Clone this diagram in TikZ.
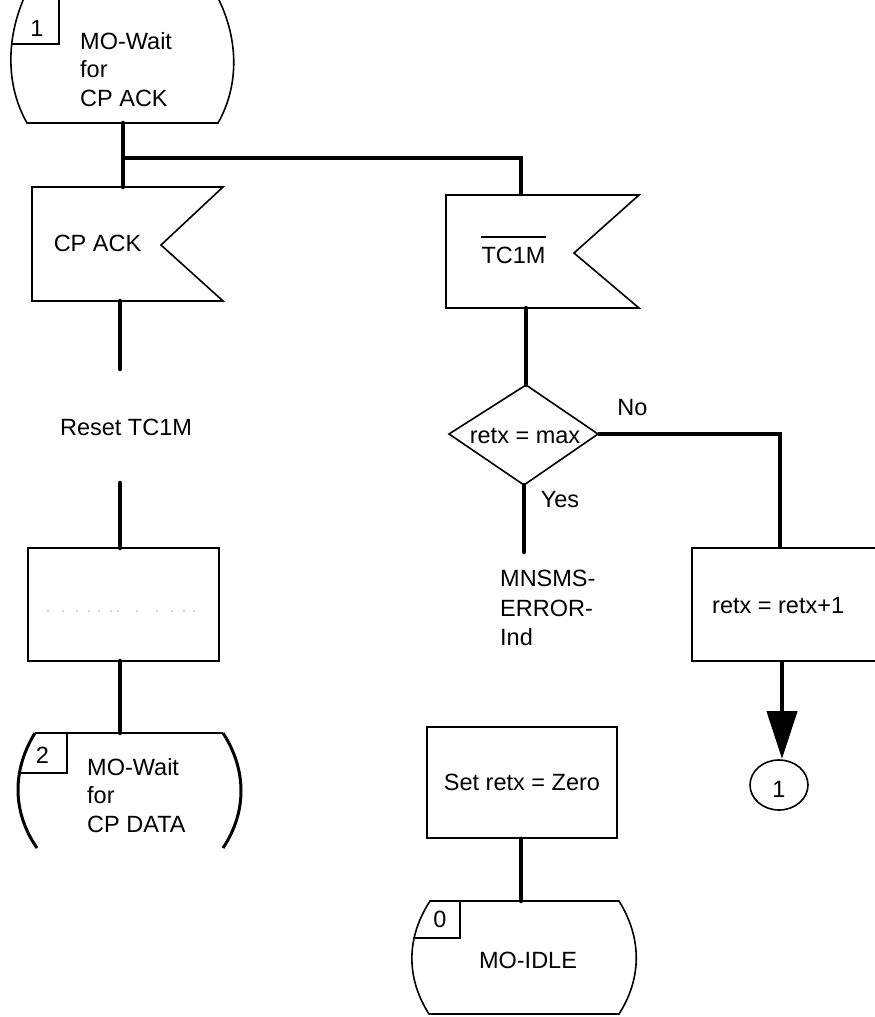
\documentclass[tikz,border=0pt]{standalone}
\usepackage{fontspec}
\setmainfont{Liberation Sans}
\usetikzlibrary{arrows.meta,shapes.geometric}
\begin{document}
\begin{tikzpicture}[x=1pt,y=-1pt,
  conn/.style={line width=4.5pt, line cap=round},
  thin/.style={line width=1.6pt, line join=miter},
  thick/.style={line width=2.7pt},
  lbl/.style={font=\fontsize{23.5}{28.5}\selectfont, inner sep=0pt, align=left},
  boxnode/.style={draw, thin, rectangle, inner sep=0pt},
]
\useasboundingbox (0,0) rectangle (875,1017);
\clip (0,0) rectangle (875,1017);

% ---------- State 1 (top left) ----------
\coordinate (s1bot) at (123,123);
\draw[thin] (24,-2) .. controls (6,40) and (6,86) .. (27,123) -- (218,123)
            .. controls (239,86) and (239,40) .. (218,-2);
\draw[thin] (59,0) -- (59,44) -- (12,44);
\node[lbl] (n1) at (37,28) {1};
\node[lbl, anchor=north west] (s1txt) at (80,32) {MO-Wait\\for\\CP ACK};

% ---------- Signal CP ACK ----------
\draw[thin] (32,187) coordinate (cpTL) -- (223,187) -- (161,245) -- (223,301) -- (32,301) -- cycle;
\coordinate (cpTop) at (123,187);
\coordinate (cpBot) at (120,301);
\node[lbl] (cpack) at (97.5,243) {CP ACK};

% ---------- Signal TC1M ----------
\draw[thin] (446,195) -- (639,195) -- (574,253) -- (639,308) -- (446,308) -- cycle;
\coordinate (tcTop) at (521,195);
\coordinate (tcBot) at (526,308);
\node[lbl] (tc1m) at (513.5,255) {TC1M};
\draw[line width=2pt] ([yshift=9pt]tc1m.north west) -- ([yshift=9pt]tc1m.north east);

% branch from state 1
\coordinate (br) at (123,158);
\coordinate (brR) at (521,158);
\draw[conn] (s1bot) -- (cpTop);
\draw[conn, line cap=butt] (br) -- (brR) -- (tcTop);

% ---------- Reset TC1M ----------
\coordinate (rsTop) at (120,369);
\coordinate (rsBot) at (120,483);
\node[lbl] (reset) at (126,427) {Reset TC1M};
\draw[conn] (cpBot) -- (rsTop);

% ---------- box with faint text ----------
\node[boxnode, thick, minimum width=191pt, minimum height=113pt] (boxA) at (123.5,604.5) {};
\foreach \xx in {48,63,77,89,99,111,118,137,157,172,184,194}
  \fill[gray!70] (\xx,611) circle (0.8);
\draw[conn] (rsBot) -- (120,548);
\draw[conn] (120,661) -- (120,733);

% ---------- State 2 ----------
\draw[line width=2pt] (35,733) -- (223,733);
\draw[line width=3pt] (35,733) .. controls (12,770) and (12,812) .. (37,848);
\draw[line width=3pt] (223,733) .. controls (247,770) and (247,812) .. (223,848);
\draw[thick] (67,733) -- (67,773) -- (21,773);
\node[lbl] (n2) at (42.5,755) {2};
\node[lbl, anchor=north west] (s2txt) at (87,758) {MO-Wait\\for\\CP DATA};

% ---------- Decision ----------
\coordinate (dT) at (526,385);
\coordinate (dL) at (449,434);
\coordinate (dR) at (598,434);
\coordinate (dB) at (524,485);
\draw[thin] (dT) -- (dR) -- (dB) -- (dL) -- cycle;
\node[lbl] (dec) at (525,436) {retx = max};
\node[lbl] (no) at (632.5,407.5) {No};
\node[lbl] (yes) at (560,500) {Yes};
\draw[conn] (tcBot) -- (dT);
\coordinate (noC) at (780,434);
\draw[conn, line cap=butt] (dR) -- (noC) -- (780,548);
\draw[conn] (dB) -- (524,552);

% ---------- MNSMS-ERROR-Ind ----------
\node[lbl, anchor=north west, font=\fontsize{23.5}{29.5}\selectfont] (err) at (500,570) {MNSMS-\\ERROR-\\Ind};

% ---------- retx = retx+1 ----------
\node[boxnode, minimum width=200pt, minimum height=113pt] (boxB) at (792,604.5) {};
\node[lbl, anchor=west] (inc) at (712,606) {retx = retx+1};
\node[draw, thin, ellipse, minimum width=58pt, minimum height=50pt, inner sep=0pt] (con1) at (779,785) {};
\node[lbl] (c1txt) at (779,789) {1};
\draw[line width=4.5pt, -{Triangle[length=48pt,width=30pt]}] (782,661) -- (782,759);

% ---------- Set retx = Zero ----------
\node[boxnode, minimum width=190pt, minimum height=111pt] (boxC) at (522,782.5) {};
\node[lbl] (setz) at (522,782) {Set retx = Zero};
\draw[conn] (boxC.south) ++(-1,0) -- (521,901);

% ---------- MO-IDLE ----------
\draw[thin] (430,901) -- (619,901) .. controls (642,938) and (642,978) .. (619,1014)
            -- (429,1014) .. controls (406,978) and (406,938) .. cycle;
\draw[thin] (460,901) -- (460,938) -- (413,938);
\node[lbl] (n0) at (440,919.5) {0};
\node[lbl] (idle) at (528,960) {MO-IDLE};
\end{tikzpicture}
\end{document}
